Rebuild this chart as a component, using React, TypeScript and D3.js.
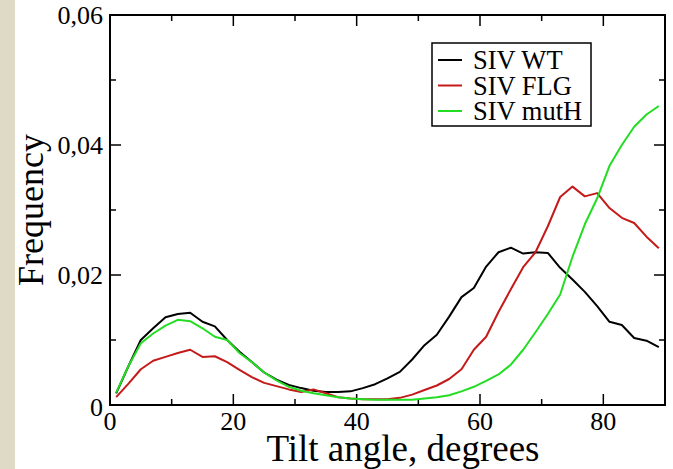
import React, { useEffect, useRef } from 'react'
import * as d3 from 'd3'

// tilt angle bins (degrees)
const angles = [1, 3, 5, 7, 9, 11, 13, 15, 17, 19, 21, 23, 25, 27, 29, 31, 33, 35, 37, 39, 41, 43, 45,
  47, 49, 51, 53, 55, 57, 59, 61, 63, 65, 67, 69, 71, 73, 75, 77, 79, 81, 83, 85, 87, 89]

const wt = [0.0018, 0.006, 0.0100, 0.0118, 0.0135, 0.0140, 0.0142, 0.0128, 0.0121, 0.0100, 0.0082, 0.0066,
  0.0050, 0.0039, 0.0031, 0.0026, 0.0022, 0.0020, 0.0020, 0.0021, 0.0026, 0.0032, 0.0041, 0.0051, 0.0070,
  0.0092, 0.0108, 0.0136, 0.0166, 0.0180, 0.0213, 0.0235, 0.0242, 0.0233, 0.0235, 0.0234, 0.0211, 0.0193,
  0.0174, 0.0152, 0.0128, 0.0123, 0.0103, 0.0099, 0.0089]

const flg = [0.0012, 0.0033, 0.0055, 0.0068, 0.0074, 0.0080, 0.0085, 0.0074, 0.0075, 0.0066, 0.0054, 0.0043,
  0.0034, 0.0029, 0.0024, 0.0020, 0.0024, 0.0018, 0.0012, 0.0010, 0.0009, 0.0009, 0.0009, 0.0011, 0.0016,
  0.0023, 0.0030, 0.0040, 0.0055, 0.0085, 0.0105, 0.0143, 0.0178, 0.0212, 0.0235, 0.0275, 0.0320, 0.0336,
  0.0321, 0.0326, 0.0303, 0.0288, 0.0280, 0.0259, 0.0241]

const mutH = [0.0019, 0.0060, 0.0095, 0.0110, 0.0122, 0.0131, 0.0129, 0.0118, 0.0105, 0.0100, 0.0080, 0.0066,
  0.0050, 0.0038, 0.0028, 0.0022, 0.0018, 0.0015, 0.0012, 0.0010, 0.0009, 0.0008, 0.0008, 0.0008, 0.0008,
  0.0010, 0.0012, 0.0015, 0.0021, 0.0028, 0.0037, 0.0047, 0.0062, 0.0085, 0.0112, 0.0140, 0.0170, 0.0228,
  0.0278, 0.0318, 0.0368, 0.0400, 0.0428, 0.0447, 0.0460]

const seriesNames = ['SIV WT', 'SIV FLG', 'SIV mutH']
const seriesColors = ['#000000', '#c41a1a', '#22dd22']

const xTicks = [0, 20, 40, 60, 80]
const yTicks = [0, 0.02, 0.04, 0.06]
const yTickLabels = ['0', '0,02', '0,04', '0,06']

const W = 673
const H = 469
const margin = { left: 110, right: 8, top: 15, bottom: 64 }
const FONT = '"Liberation Serif", "Times New Roman", serif'

function App() {
  const ref = useRef<SVGSVGElement>(null)

  useEffect(() => {
    const svg = d3.select(ref.current)
    svg.selectAll('*').remove()

    svg.append('rect').attr('width', W).attr('height', H).attr('fill', '#ffffff')
    svg.append('rect').attr('width', 15).attr('height', H).attr('fill', '#dedac6')

    const x = d3.scaleLinear().domain([0, 90]).range([margin.left, W - margin.right])
    const y = d3.scaleLinear().domain([0, 0.06]).range([H - margin.bottom, margin.top])

    const [x0, x1] = x.range()
    const [y0, y1] = y.range()

    // inward ticks on all four sides
    const ticks = svg.append('g').attr('stroke', '#000').attr('stroke-width', 1.5)
    d3.range(0, 91, 10).forEach(v => {
      const len = v % 20 === 0 ? 11 : 6
      ticks.append('line').attr('x1', x(v)).attr('x2', x(v)).attr('y1', y0).attr('y2', y0 - len)
      ticks.append('line').attr('x1', x(v)).attr('x2', x(v)).attr('y1', y1).attr('y2', y1 + len)
    })
    d3.range(0, 7).forEach(i => {
      const v = i * 0.01
      const len = i % 2 === 0 ? 11 : 6
      ticks.append('line').attr('x1', x0).attr('x2', x0 + len).attr('y1', y(v)).attr('y2', y(v))
      ticks.append('line').attr('x1', x1).attr('x2', x1 - len).attr('y1', y(v)).attr('y2', y(v))
    })

    const line = d3.line<number>()
      .x((_, i) => x(angles[i]))
      .y(d => y(d))

    ;[wt, flg, mutH].forEach((s, i) => {
      svg.append('path')
        .datum(s)
        .attr('d', line)
        .attr('fill', 'none')
        .attr('stroke', seriesColors[i])
        .attr('stroke-width', 2)
        .attr('stroke-linejoin', 'round')
    })

    svg.append('rect')
      .attr('x', x0).attr('y', y1)
      .attr('width', x1 - x0).attr('height', y0 - y1)
      .attr('fill', 'none').attr('stroke', '#000').attr('stroke-width', 2)

    // tick labels
    svg.append('g').selectAll('text').data(xTicks).join('text')
      .attr('x', d => x(d)).attr('y', 430)
      .attr('text-anchor', 'middle')
      .attr('font-family', FONT).attr('font-size', 26)
      .text(d => d)

    svg.append('g').selectAll('text').data(yTicks).join('text')
      .attr('x', 103).attr('y', (d, i) => y(d) + 9 + (i === 0 ? 2 : 0))
      .attr('text-anchor', 'end')
      .attr('font-family', FONT).attr('font-size', 26)
      .text((d, i) => yTickLabels[i])

    // axis labels
    svg.append('text')
      .attr('x', 403).attr('y', 461)
      .attr('text-anchor', 'middle')
      .attr('font-family', FONT).attr('font-size', 37)
      .text('Tilt angle, degrees')

    svg.append('text')
      .attr('transform', `translate(43,${(y0 + y1) / 2}) rotate(-90)`)
      .attr('text-anchor', 'middle')
      .attr('font-family', FONT).attr('font-size', 36)
      .text('Frequency')

    // legend
    const lg = svg.append('g')
    lg.append('rect')
      .attr('x', 432).attr('y', 43).attr('width', 159).attr('height', 83)
      .attr('fill', '#fff').attr('stroke', '#000').attr('stroke-width', 1.5)
    seriesNames.forEach((name, i) => {
      const cy = 60 + i * 25.5
      lg.append('line')
        .attr('x1', 438).attr('x2', 462).attr('y1', cy).attr('y2', cy)
        .attr('stroke', seriesColors[i]).attr('stroke-width', 2)
      lg.append('text')
        .attr('x', 473).attr('y', cy + 9)
        .attr('font-family', FONT).attr('font-size', 26.5)
        .text(name)
    })
  }, [])

  return (
    <div style={{ position: 'fixed', left: 0, top: 0 }}>
      <svg ref={ref} width={W} height={H} style={{ display: 'block' }} />
    </div>
  )
}

export default App
